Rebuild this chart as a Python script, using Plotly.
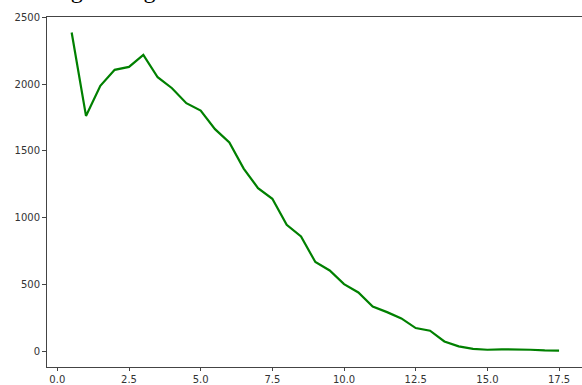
import plotly.graph_objects as go

x_values = [0.5, 1.0, 1.5, 2.0, 2.5, 3.0, 3.5, 4.0, 4.5, 5.0, 5.5, 6.0, 6.5, 7.0, 7.5, 8.0, 8.5,
            9.0, 9.5, 10.0, 10.5, 11.0, 11.5, 12.0, 12.5, 13.0, 13.5, 14.0, 14.5, 15.0, 15.5,
            16.0, 16.5, 17.0, 17.5]
y_values = [2385, 1762, 1987, 2106, 2128, 2218, 2051, 1969, 1857, 1802, 1663, 1563, 1368, 1222,
            1143, 948, 861, 670, 607, 505, 443, 338, 296, 249, 177, 157, 77, 40, 22, 15, 18,
            18, 15, 10, 8]
x_ticks = [0.0, 2.5, 5.0, 7.5, 10.0, 12.5, 15.0, 17.5]
x_tick_labels = ["0.0", "2.5", "5.0", "7.5", "10.0", "12.5", "15.0", "17.5"]
y_ticks = [0, 500, 1000, 1500, 2000, 2500]
y_tick_labels = ["0", "500", "1000", "1500", "2000", "2500"]
title_text = "Average rating"

fig = go.Figure()
fig.add_trace(go.Scatter(x=x_values, y=y_values, mode="lines",
                         line=dict(color="#008000", width=2.2), showlegend=False))

axis_font = dict(family="DejaVu Sans", size=10, color="#333333")
fig.update_layout(
    width=582, height=385,
    margin=dict(l=47, r=0, t=17, b=18),
    paper_bgcolor="white", plot_bgcolor="white",
    xaxis=dict(range=[-0.36, 18.30], tickvals=x_ticks, ticktext=x_tick_labels,
               showgrid=False, zeroline=False, showline=True, linecolor="#444444",
               linewidth=1, mirror=True, ticks="outside", ticklen=3, tickcolor="#444444",
               tickfont=axis_font, automargin=False, ticklabelstandoff=0),
    yaxis=dict(range=[-114, 2501], tickvals=y_ticks, ticktext=y_tick_labels,
               showgrid=False, zeroline=False, showline=True, linecolor="#444444",
               linewidth=1, mirror=False, ticks="outside", ticklen=4, tickcolor="#444444",
               tickfont=axis_font, automargin=False),
    annotations=[dict(text=title_text, xref="paper", yref="paper", x=-0.065, y=1.035,
                      xanchor="left", yanchor="bottom", showarrow=False,
                      font=dict(family="Liberation Serif", size=24, color="black"))],
)

fig.write_html("out.html", config={"displayModeBar": False},
               post_script="document.body.style.margin='0';document.body.style.overflow='hidden';")
